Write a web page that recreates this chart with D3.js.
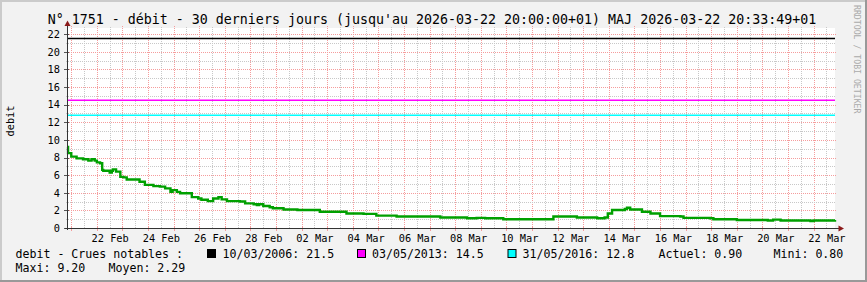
<!DOCTYPE html>
<html>
<head>
<meta charset="utf-8">
<script src="https://cdn.jsdelivr.net/npm/d3@7"></script>
<style>
  body { margin: 0; background: #f2f2f2; }
  svg { display: block; }
  text { font-family: "DejaVu Sans Mono", monospace; fill: #000; }
</style>
</head>
<body>
<svg id="chart" width="867" height="282"></svg>
<script>
'use strict';

// --- data ---
const title = "N° 1751 - débit - 30 derniers jours (jusqu'au 2026-03-22 20:00:00+01) MAJ 2026-03-22 20:33:49+01";
const yLabel = 'debit';
const periodStart = '2026-02-20 20:00';
const periodEnd = '2026-03-22 20:00';

const times = [
    '2026-02-20 20:00', '2026-02-20 21:00', '2026-02-21 00:00', '2026-02-21 05:00', '2026-02-21 11:00',
    '2026-02-21 16:00', '2026-02-21 19:00', '2026-02-21 22:00', '2026-02-22 00:00', '2026-02-22 03:00',
    '2026-02-22 05:00', '2026-02-22 06:00', '2026-02-22 12:00', '2026-02-22 14:00', '2026-02-22 15:00',
    '2026-02-22 18:00', '2026-02-22 22:00', '2026-02-23 01:00', '2026-02-23 04:00', '2026-02-23 16:00',
    '2026-02-23 21:00', '2026-02-24 05:00', '2026-02-24 11:00', '2026-02-24 16:00', '2026-02-24 21:00',
    '2026-02-24 23:00', '2026-02-25 03:00', '2026-02-25 06:00', '2026-02-25 17:00', '2026-02-25 23:00',
    '2026-02-26 02:00', '2026-02-26 08:00', '2026-02-26 13:00', '2026-02-26 18:00', '2026-02-26 21:00',
    '2026-02-27 02:00', '2026-02-27 14:00', '2026-02-27 19:00', '2026-02-28 03:00', '2026-02-28 06:00',
    '2026-02-28 08:00', '2026-02-28 12:00', '2026-02-28 18:00', '2026-02-28 21:00', '2026-03-01 07:00',
    '2026-03-01 20:00', '2026-03-02 17:00', '2026-03-03 18:00', '2026-03-04 10:00', '2026-03-04 22:00',
    '2026-03-05 17:00', '2026-03-07 10:00', '2026-03-08 11:00', '2026-03-08 20:00', '2026-03-09 04:00',
    '2026-03-09 21:00', '2026-03-11 20:00', '2026-03-12 18:00', '2026-03-13 13:00', '2026-03-13 20:00',
    '2026-03-13 23:00', '2026-03-14 03:00', '2026-03-14 15:00', '2026-03-14 17:00', '2026-03-14 20:00',
    '2026-03-15 07:00', '2026-03-15 15:00', '2026-03-16 00:00', '2026-03-16 19:00', '2026-03-16 22:00',
    '2026-03-17 23:00', '2026-03-18 02:00', '2026-03-19 00:00', '2026-03-20 05:00', '2026-03-20 10:00',
    '2026-03-20 17:00', '2026-03-21 21:00', '2026-03-22 00:00', '2026-03-22 20:00'
];
const debit = [
    9.2, 8.5, 8.1, 7.9, 7.8,
    7.65, 7.8, 7.65, 7.45, 7.35,
    6.6, 6.5, 6.3, 6.5, 6.65,
    6.4, 5.8, 5.75, 5.5, 5.25,
    4.9, 4.75, 4.7, 4.5, 4.1,
    4.3, 4.1, 3.95, 3.5, 3.35,
    3.2, 3.05, 3.35, 3.5, 3.25,
    3.05, 3.0, 2.8, 2.7, 2.6,
    2.7, 2.5, 2.35, 2.25, 2.1,
    2.05, 1.85, 1.65, 1.6, 1.4,
    1.3, 1.2, 1.1, 1.15, 1.1,
    1.0, 1.3, 1.2, 1.1, 1.2,
    1.65, 2.05, 2.15, 2.3, 2.1,
    1.85, 1.65, 1.35, 1.3, 1.15,
    1.1, 1.0, 0.9, 0.85, 0.95,
    0.85, 0.8, 0.85, 0.9
];

const yTicks = [0, 2, 4, 6, 8, 10, 12, 14, 16, 18, 20, 22];
const xLabelDays = ['2026-02-22', '2026-02-24', '2026-02-26', '2026-02-28', '2026-03-02', '2026-03-04',
    '2026-03-06', '2026-03-08', '2026-03-10', '2026-03-12', '2026-03-14', '2026-03-16',
    '2026-03-18', '2026-03-20', '2026-03-22'];

const crueDates = ['10/03/2006', '03/05/2013', '31/05/2016'];
const crueValues = [21.5, 14.5, 12.8];
const crueColors = ['#000000', '#ff00ff', '#00ffff'];
const actuel = 0.90, mini = 0.80, maxi = 9.20, moyen = 2.29;

// --- layout ---
const W = 867, H = 282;
const X0 = 67, X1 = 835, YT = 28, YB = 228;
const mgridColor = '#f59c9c';
const gridColor = '#c8c8c8';

const parseT = d3.timeParse('%Y-%m-%d %H:%M');
const parseD = d3.timeParse('%Y-%m-%d');
const start = parseT(periodStart), end = parseT(periodEnd);
const series = times.map((t, i) => ({ t: parseT(t), v: debit[i] }));

const x = d3.scaleTime().domain([start, end]).range([X0, X1]);
const y = d3.scaleLinear().domain([0, 22.7]).range([YB, YT]);

const svg = d3.select('#chart');

// canvas + 3D border
svg.append('rect').attr('width', W).attr('height', H).attr('fill', '#f2f2f2');
svg.append('rect').attr('width', W).attr('height', 2).attr('fill', '#cbcbcb');
svg.append('rect').attr('width', 2).attr('height', H).attr('fill', '#cbcbcb');
svg.append('rect').attr('y', H - 2).attr('width', W).attr('height', 2).attr('fill', '#999');
svg.append('rect').attr('x', W - 2).attr('width', 2).attr('height', H).attr('fill', '#999');

svg.append('rect').attr('x', X0).attr('y', YT).attr('width', X1 - X0).attr('height', YB - YT).attr('fill', '#fff');

// grid
const days = d3.timeDay.range(d3.timeDay.ceil(start), end);
const halfDays = d3.timeHour.every(12).range(start, end).filter(d => d.getHours() !== 0);
const grid = svg.append('g').attr('shape-rendering', 'crispEdges');

grid.selectAll('.vmin').data(halfDays).enter().append('line')
    .attr('x1', d => Math.round(x(d)) + 0.5).attr('x2', d => Math.round(x(d)) + 0.5)
    .attr('y1', YT - 1).attr('y2', YB + 1)
    .attr('stroke', gridColor).attr('stroke-dasharray', '1,1');
grid.selectAll('.vmaj').data(days).enter().append('line')
    .attr('x1', d => Math.round(x(d)) + 0.5).attr('x2', d => Math.round(x(d)) + 0.5)
    .attr('y1', YT - 2).attr('y2', YB + 2)
    .attr('stroke', mgridColor).attr('stroke-dasharray', '1,1');
grid.selectAll('.vtick').data(days).enter().append('line')
    .attr('x1', d => Math.round(x(d)) + 0.5).attr('x2', d => Math.round(x(d)) + 0.5)
    .attr('y1', YB - 2).attr('y2', YB + 3)
    .attr('stroke', mgridColor);

const yMinor = d3.range(1, 23, 2);
grid.selectAll('.hmin').data(yMinor).enter().append('line')
    .attr('x1', X0 - 1).attr('x2', X1 + 1)
    .attr('y1', d => Math.round(y(d)) + 0.5).attr('y2', d => Math.round(y(d)) + 0.5)
    .attr('stroke', gridColor).attr('stroke-dasharray', '1,1');
grid.selectAll('.hmaj').data(yTicks.slice(1)).enter().append('line')
    .attr('x1', X0 - 2).attr('x2', X1 + 2)
    .attr('y1', d => Math.round(y(d)) + 0.5).attr('y2', d => Math.round(y(d)) + 0.5)
    .attr('stroke', mgridColor).attr('stroke-dasharray', '1,1');
grid.selectAll('.htick').data(yTicks).enter().append('line')
    .attr('x1', X0 - 3).attr('x2', X0 + 2)
    .attr('y1', d => Math.round(y(d)) + 0.5).attr('y2', d => Math.round(y(d)) + 0.5)
    .attr('stroke', '#555');

// notable floods
svg.selectAll('.crue').data(crueValues).enter().append('line')
    .attr('x1', X0).attr('x2', X1)
    .attr('y1', d => y(d)).attr('y2', d => y(d))
    .attr('stroke', (d, i) => crueColors[i]).attr('stroke-width', 1.6);

// flow
svg.append('path').datum(series)
    .attr('fill', 'none').attr('stroke', '#00a000').attr('stroke-width', 2.4)
    .attr('stroke-linejoin', 'miter')
    .attr('d', d3.line().x(d => x(d.t)).y(d => y(d.v)).curve(d3.curveStepAfter));

// axes lines and arrows
svg.append('line').attr('x1', X0 + 0.5).attr('x2', X0 + 0.5).attr('y1', YB + 2).attr('y2', 24)
    .attr('stroke', '#333');
svg.append('line').attr('x1', X0 - 2).attr('x2', 840).attr('y1', YB + 0.5).attr('y2', YB + 0.5)
    .attr('stroke', '#333');
svg.append('path').attr('d', `M${X0 - 2.5},26 L${X0 + 3.5},26 L${X0 + 0.5},20.5 Z`).attr('fill', '#8b1a1a');
svg.append('path').attr('d', `M838.5,${YB - 2.5} L838.5,${YB + 3.5} L844,${YB + 0.5} Z`).attr('fill', '#8b1a1a');

// tick labels via axes
const yAxis = svg.append('g').attr('transform', `translate(${X0},0)`)
    .call(d3.axisLeft(y).tickValues(yTicks).tickSize(0).tickPadding(7).tickFormat(d3.format('d')));
const xLabelDates = xLabelDays.map(d => d3.timeHour.offset(parseD(d), 12));
const xAxis = svg.append('g').attr('transform', `translate(0,${YB})`)
    .call(d3.axisBottom(x).tickValues(xLabelDates).tickSize(0).tickPadding(6.2).tickFormat(d3.timeFormat('%d %b')));
[yAxis, xAxis].forEach(g => {
    g.select('.domain').remove();
    g.selectAll('text').attr('font-family', '"DejaVu Sans Mono", monospace').attr('font-size', '10.3px').attr('fill', '#000');
});

// titles
svg.append('text').attr('x', 432).attr('y', 24).attr('text-anchor', 'middle')
    .attr('font-size', '13.3px').text(title);
svg.append('text').attr('transform', 'translate(14,121) rotate(-90)').attr('text-anchor', 'middle')
    .attr('font-size', '10.3px').text(yLabel);
svg.append('text').attr('transform', 'translate(854,5) rotate(90)')
    .attr('font-size', '8.2px').style('fill', '#aaa').text('RRDTOOL / TOBI OETIKER');

// legend
const fmt2 = d3.format('.2f');
const legend = svg.append('g').attr('font-size', '11.6px');
legend.append('text').attr('x', 15.5).attr('y', 257.5).text('debit - Crues notables :');
const boxX = [207.5, 357.5, 508];
const labelX = [222.5, 372, 522.5];
crueValues.forEach((v, i) => {
    legend.append('rect').attr('x', boxX[i]).attr('y', 249.5).attr('width', 8).attr('height', 8)
        .attr('fill', crueColors[i]).attr('stroke', '#000');
    legend.append('text').attr('x', labelX[i]).attr('y', 257.5).text(`${crueDates[i]}: ${v}`);
});
legend.append('text').attr('x', 658.5).attr('y', 257.5).text(`Actuel: ${fmt2(actuel)}`);
legend.append('text').attr('x', 773.5).attr('y', 257.5).text(`Mini: ${fmt2(mini)}`);
legend.append('text').attr('x', 15.5).attr('y', 271.5).text(`Maxi: ${fmt2(maxi)}`);
legend.append('text').attr('x', 108.5).attr('y', 271.5).text(`Moyen: ${fmt2(moyen)}`);
</script>
</body>
</html>
